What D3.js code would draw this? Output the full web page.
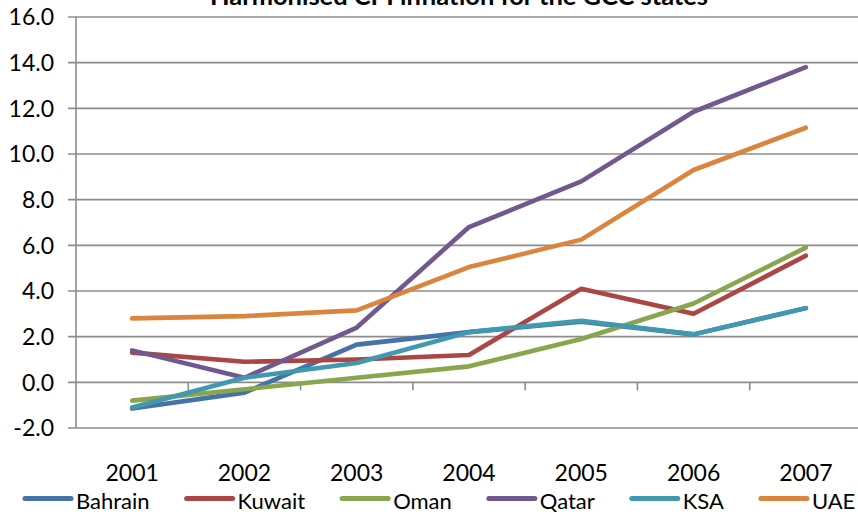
<!DOCTYPE html>
<html>
<head>
<meta charset="utf-8">
<script src="https://cdn.jsdelivr.net/npm/d3@7"></script>
<style>
  html, body { margin: 0; padding: 0; background: #fff; }
  svg { display: block; }
  text { font-family: Lato, "Open Sans", Arial, sans-serif; fill: #000; }
</style>
</head>
<body>
<svg id="chart" width="858" height="515"></svg>
<script>
// Harmonised CPI inflation (%), GCC states, 2001-2007
const years = ["2001", "2002", "2003", "2004", "2005", "2006", "2007"];
const bahrain = [-1.15, -0.45, 1.65, 2.2, 2.65, 2.1, 3.25];
const kuwait  = [1.3, 0.9, 1.0, 1.2, 4.1, 3.0, 5.55];
const oman    = [-0.8, -0.3, 0.2, 0.7, 1.9, 3.45, 5.9];
const qatar   = [1.4, 0.2, 2.4, 6.8, 8.8, 11.85, 13.8];
const ksa     = [-1.1, 0.2, 0.85, 2.2, 2.7, 2.1, 3.25];
const uae     = [2.8, 2.9, 3.15, 5.05, 6.25, 9.3, 11.15];
const seriesNames = ["Bahrain", "Kuwait", "Oman", "Qatar", "KSA", "UAE"];
const seriesColors = ["#4572A7", "#AA4643", "#89A54E", "#71588F", "#4198AF", "#DB843D"];
const yTicks = [-2, 0, 2, 4, 6, 8, 10, 12, 14, 16];
const title = "Harmonised CPI inflation for the GCC states";

const seriesValues = [bahrain, kuwait, oman, qatar, ksa, uae];

const svg = d3.select("#chart");
const plotLeft = 76, plotRight = 862, plotTop = 17, plotBottom = 428;

const x = d3.scaleBand().domain(years).range([plotLeft, plotRight]).padding(0);
const y = d3.scaleLinear().domain([-2, 16]).range([plotBottom, plotTop]);

const gridColor = "#8c8c8c";
const labelSize = "23px";
const legendSize = "22px";

// Horizontal gridlines with short ticks left of the axis
svg.append("g").selectAll("line").data(yTicks).join("line")
  .attr("x1", plotLeft - 8).attr("x2", 858)
  .attr("y1", d => y(d)).attr("y2", d => y(d))
  .attr("stroke", gridColor).attr("stroke-width", 1.6);

// Vertical axis
svg.append("line")
  .attr("x1", plotLeft).attr("x2", plotLeft)
  .attr("y1", y(16)).attr("y2", y(-2))
  .attr("stroke", gridColor).attr("stroke-width", 1.6);

// Category ticks hanging from the zero line
svg.append("g").selectAll("line").data(years.slice(1)).join("line")
  .attr("x1", d => x(d)).attr("x2", d => x(d))
  .attr("y1", y(0)).attr("y2", y(0) + 8)
  .attr("stroke", gridColor).attr("stroke-width", 1.6);

// Y tick labels
svg.append("g").selectAll("text").data(yTicks).join("text")
  .attr("x", 54).attr("y", d => y(d))
  .attr("dy", "0.36em")
  .attr("text-anchor", "end")
  .style("font-size", labelSize)
  .text(d => d.toFixed(1));

// X category labels (below the plot)
svg.append("g").selectAll("text").data(years).join("text")
  .attr("x", d => x(d) + x.bandwidth() / 2).attr("y", 481)
  .attr("text-anchor", "middle")
  .style("font-size", labelSize)
  .text(d => d);

// Series lines
const line = d3.line()
  .x((d, i) => x(years[i]) + x.bandwidth() / 2)
  .y(d => y(d));

svg.append("g").selectAll("path").data(seriesValues).join("path")
  .attr("d", d => line(d))
  .attr("fill", "none")
  .attr("stroke", (d, i) => seriesColors[i])
  .attr("stroke-width", 4.6)
  .attr("stroke-linejoin", "round")
  .attr("stroke-linecap", "round");

// Title, sitting at the very top edge
svg.append("text")
  .attr("x", 459).attr("y", 5)
  .attr("text-anchor", "middle")
  .attr("textLength", 498)
  .attr("lengthAdjust", "spacingAndGlyphs")
  .style("font-size", "24px").style("font-weight", "bold")
  .text(title);

// Legend along the bottom
const legend = svg.append("g");
let lx = 25;
seriesNames.forEach((name, i) => {
  legend.append("line")
    .attr("x1", lx).attr("x2", lx + 46)
    .attr("y1", 498.5).attr("y2", 498.5)
    .attr("stroke", seriesColors[i]).attr("stroke-width", 5)
    .attr("stroke-linecap", "round");
  const t = legend.append("text")
    .attr("x", lx + 51).attr("y", 509)
    .style("font-size", legendSize)
    .text(name);
  lx += 51 + t.node().getComputedTextLength() + 37;
});
</script>
</body>
</html>
